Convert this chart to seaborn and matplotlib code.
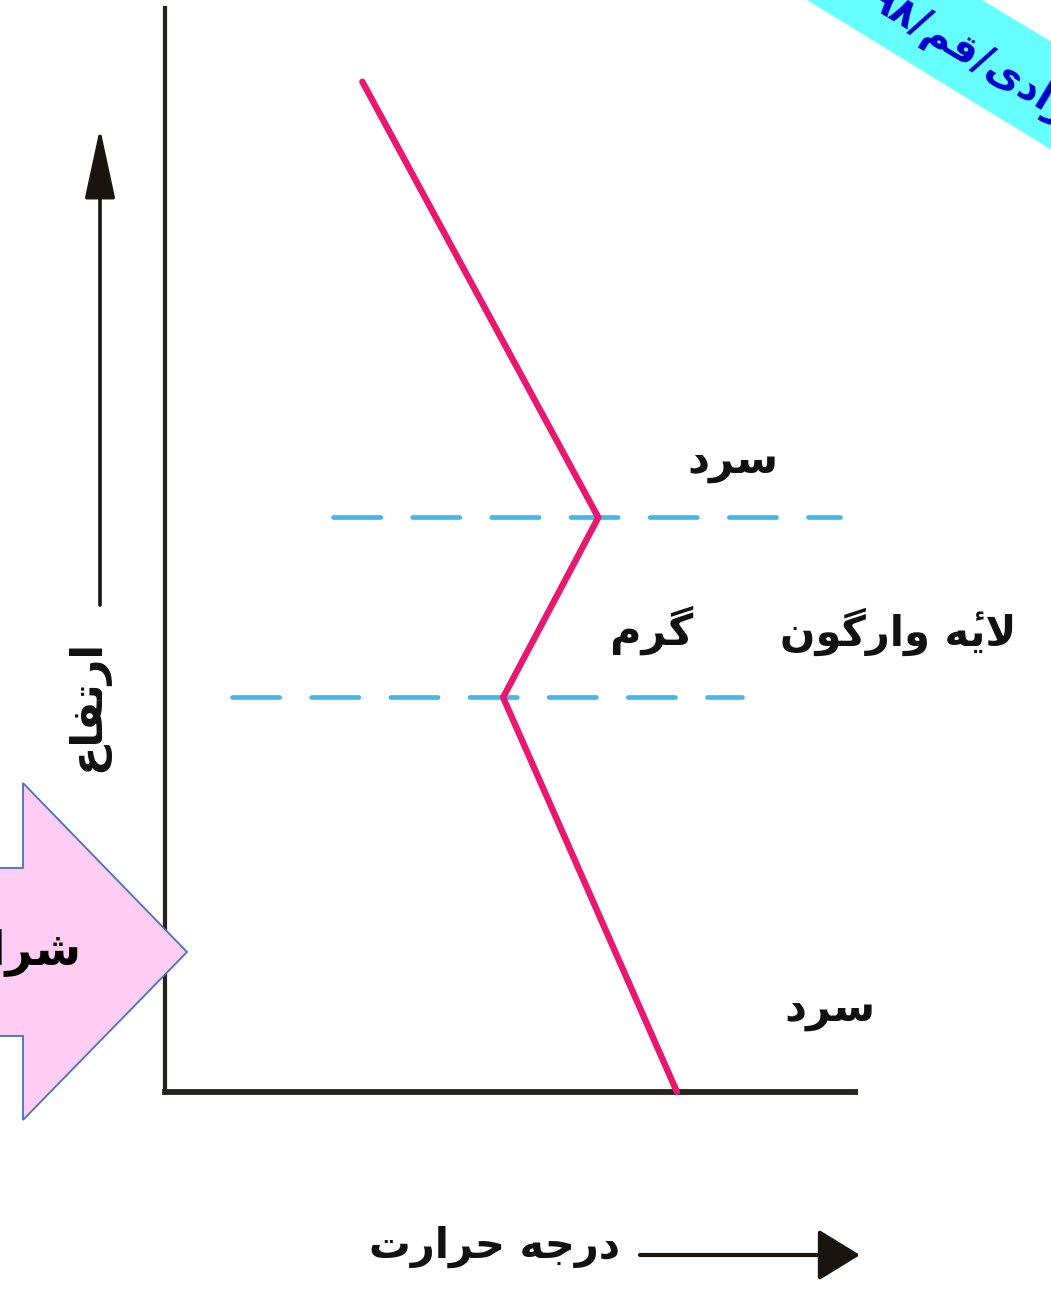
import re
import matplotlib
matplotlib.use('Agg')
import matplotlib.pyplot as plt
import seaborn as sns
from matplotlib.patches import Polygon, FancyArrowPatch

# temperature profile, arbitrary units (0-100 on both axes)
temperature = [28.6, 62.8, 49.0, 74.2]
altitude = [93.2, 53.0, 36.4, 0.0]

# inversion layer boundaries (altitude) and how far the dashed lines run
layer_top = 53.0
layer_bottom = 36.4
layer_top_span = [24.3, 97.8]
layer_bottom_span = [9.7, 83.6]

label_cold = 'سرد'
label_warm = 'گرم'
label_layer = 'لایه\u0654 وارگون'
label_altitude = 'ارتفاع'
label_temperature = 'درجه حرارت'
label_arrow = 'شرایط'
label_banner = 'آزادی/قم/۹۸'

# matplotlib has no arabic shaping, so map letters to presentation forms
# (isolated, final, initial, medial)
FORMS = {
    'ا': '\uFE8D\uFE8E', 'آ': '\uFE81\uFE82', 'د': '\uFEA9\uFEAA',
    'ر': '\uFEAD\uFEAE', 'ز': '\uFEAF\uFEB0', 'و': '\uFEED\uFEEE',
    'ت': '\uFE95\uFE96\uFE97\uFE98', 'ج': '\uFE9D\uFE9E\uFE9F\uFEA0',
    'ح': '\uFEA1\uFEA2\uFEA3\uFEA4', 'س': '\uFEB1\uFEB2\uFEB3\uFEB4',
    'ش': '\uFEB5\uFEB6\uFEB7\uFEB8', 'ط': '\uFEC1\uFEC2\uFEC3\uFEC4',
    'ع': '\uFEC9\uFECA\uFECB\uFECC', 'ف': '\uFED1\uFED2\uFED3\uFED4',
    'ق': '\uFED5\uFED6\uFED7\uFED8', 'ل': '\uFEDD\uFEDE\uFEDF\uFEE0',
    'م': '\uFEE1\uFEE2\uFEE3\uFEE4', 'ن': '\uFEE5\uFEE6\uFEE7\uFEE8',
    'ه': '\uFEE9\uFEEA\uFEEB\uFEEC', 'ی': '\uFBFC\uFBFD\uFBFE\uFBFF',
    'گ': '\uFB92\uFB93\uFB94\uFB95',
}
LAM_ALEF = {'ا': '\uFEFB\uFEFC', 'آ': '\uFEF5\uFEF6'}
MARKS = '\u0654'
DIGITS = '0123456789۰۱۲۳۴۵۶۷۸۹'


def joins_next(c):
    return c in FORMS and len(FORMS[c]) == 4


def fa(text):
    chars = list(text)
    units = []
    i = 0
    while i < len(chars):
        c = chars[i]
        if c in MARKS and units:
            units[-1] += c
            i += 1
            continue
        link_prev = i > 0 and joins_next(chars[i - 1])
        if c == 'ل' and i + 1 < len(chars) and chars[i + 1] in LAM_ALEF:
            units.append(LAM_ALEF[chars[i + 1]][1 if link_prev else 0])
            i += 2
            continue
        if c not in FORMS:
            units.append(c)
            i += 1
            continue
        nxt = chars[i + 1] if i + 1 < len(chars) else ''
        link_next = joins_next(c) and nxt in FORMS
        f = FORMS[c]
        if link_prev and link_next:
            units.append(f[3])
        elif link_prev:
            units.append(f[1])
        elif link_next:
            units.append(f[2])
        else:
            units.append(f[0])
        i += 1
    # right-to-left: reverse the order, but keep runs of digits as they are
    runs = []
    for u in units:
        is_digit = u[0] in DIGITS
        if runs and runs[-1][0] == is_digit and is_digit:
            runs[-1][1].append(u)
        else:
            runs.append((is_digit, [u]))
    out = []
    for is_digit, us in reversed(runs):
        out.extend(us)
    return ''.join(out)


sns.set_style('white')
plt.rcParams['font.family'] = ['DejaVu Sans']
plt.rcParams['lines.scale_dashes'] = False

W, H = 1051, 1291


def fxy(px, py):
    return px / W, 1 - py / H


fig = plt.figure(figsize=(W / 100, H / 100), dpi=100)
ax = fig.add_axes([165 / W, 1 - 1092 / H, (855 - 165) / W, (1092 - 8) / H])
ax.patch.set_alpha(0)

# dashed boundaries of the inversion layer
for level, span in [(layer_top, layer_top_span), (layer_bottom, layer_bottom_span)]:
    ax.plot(span, [level, level], color='#45B8EA', lw=3.4,
            dashes=(34, 23), dash_capstyle='round', clip_on=False)

sns.lineplot(x=temperature, y=altitude, sort=False, estimator=None,
             color='#E8176F', lw=4.6, ax=ax, clip_on=False, zorder=3)

ax.set_xlim(0, 100)
ax.set_ylim(0, 100)
ax.set_xticks([])
ax.set_yticks([])
ax.set_xlabel('')
ax.set_ylabel('')
for side in ['top', 'right']:
    ax.spines[side].set_visible(False)
ax.spines['left'].set_linewidth(3)
ax.spines['bottom'].set_linewidth(4.2)
for side in ['left', 'bottom']:
    ax.spines[side].set_color('#2b211c')

txt = dict(fontweight='bold', color='#111111', ha='center', va='center')
fig.text(*fxy(733, 462), fa(label_cold), fontsize=31, **txt)
fig.text(*fxy(652, 630), fa(label_warm), fontsize=31, **txt)
fig.text(*fxy(898, 632), fa(label_layer), fontsize=30, **txt)
fig.text(*fxy(830, 1010), fa(label_cold), fontsize=31, **txt)
fig.text(*fxy(88, 706), fa(label_altitude), fontsize=31, rotation=90, **txt)
fig.text(*fxy(495, 1247), fa(label_temperature), fontsize=30, **txt)

# axis direction arrows
fig.add_artist(FancyArrowPatch(fxy(100, 605), fxy(100, 128), transform=fig.transFigure,
                               arrowstyle='-|>,head_length=4.4,head_width=0.95',
                               mutation_scale=10, lw=2.6, color='#1a1410',
                               shrinkA=0, shrinkB=0))
fig.add_artist(FancyArrowPatch(fxy(640, 1255), fxy(860, 1255), transform=fig.transFigure,
                               arrowstyle='-|>,head_length=2.6,head_width=1.6',
                               mutation_scale=10, lw=3, color='#1a1410',
                               shrinkA=0, shrinkB=0))

# pink block arrow on the left edge
arrow_pts = [fxy(-10, 868), fxy(23, 868), fxy(23, 783), fxy(187, 952),
             fxy(23, 1120), fxy(23, 1036), fxy(-10, 1036)]
fig.add_artist(Polygon(arrow_pts, closed=True, transform=fig.transFigure,
                       facecolor='#FFCCF4', edgecolor='#4472C4', lw=1.3, zorder=4))
fig.text(*fxy(82, 952), fa(label_arrow), fontsize=34, fontweight='bold',
         color='black', ha='right', va='center', zorder=5)

# cyan ribbon in the top right corner
band_pts = [fxy(807, 0), fxy(982, 0), fxy(1055, 44), fxy(1055, 152)]
fig.add_artist(Polygon(band_pts, closed=True, transform=fig.transFigure,
                       facecolor='#66FFFF', edgecolor='none', zorder=6))
fig.text(*fxy(978, 56), fa(label_banner), fontsize=29, fontweight='bold',
         color='#0000CC', ha='center', va='center', rotation=-31,
         rotation_mode='anchor', zorder=7)

fig.savefig('out.png', dpi=100, facecolor='white')
